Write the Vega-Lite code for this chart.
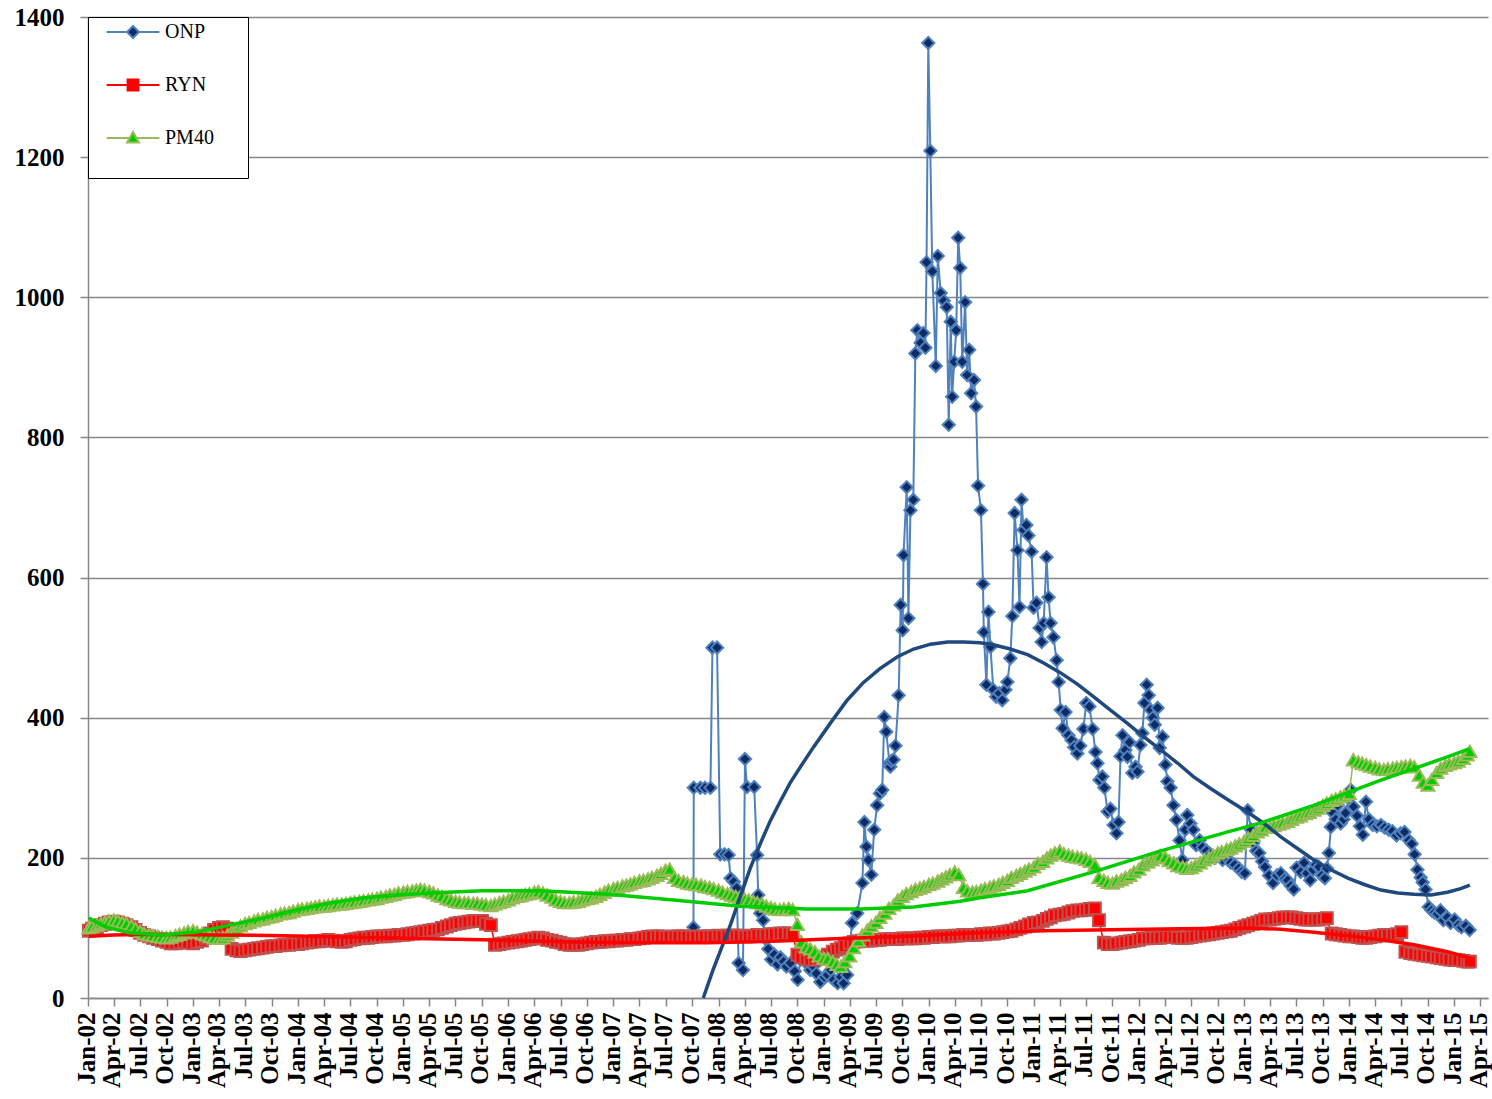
{
"$schema":"https://vega.github.io/schema/vega-lite/v6.json",
"width":1400,"height":981,
"autosize":{"type":"none"},
"padding":{"left":88,"top":17,"right":4,"bottom":101},
"background":"white",
"config":{"font":"Liberation Serif","view":{"stroke":null},
"axis":{"domainColor":"#868686","domainWidth":1.5,"tickColor":"#868686","tickWidth":1.5,"tickSize":8,"labelFont":"Liberation Serif","labelFontWeight":"bold","labelFontSize":25,"labelColor":"black","gridColor":"#868686","gridWidth":1.3,"title":null},
"legend":{"orient":"none","legendX":0,"legendY":0,"direction":"vertical","symbolSize":144,"symbolStrokeWidth":2,"symbolOffset":30,"labelOffset":22,"labelFont":"Liberation Serif","labelFontSize":20,"labelColor":"black","rowPadding":33,"padding":5,"strokeColor":"black","fillColor":"white","titleOrient":"bottom","titleFont":"Liberation Serif","titleFontSize":20,"titlePadding":5,"symbolOpacity":1}},
"datasets":{
"m":[
{"d":"2007-10-06","ONP":101},{"d":"2007-10-07","ONP":300},{"d":"2007-10-30","ONP":300},{"d":"2007-11-15","ONP":300},{"d":"2007-12-04","ONP":300},{"d":"2007-12-11","ONP":500},{"d":"2007-12-27","ONP":500},{"d":"2008-01-07","ONP":205},{"d":"2008-01-22","ONP":205},{"d":"2008-02-05","ONP":204},{"d":"2008-02-12","ONP":171},{"d":"2008-02-23","ONP":166},{"d":"2008-03-04","ONP":157},{"d":"2008-03-11","ONP":50},{"d":"2008-03-26","ONP":40},{"d":"2008-04-02","ONP":341},{"d":"2008-04-09","ONP":301},{"d":"2008-05-04","ONP":301},{"d":"2008-05-14","ONP":204},{"d":"2008-05-18","ONP":147},{"d":"2008-05-25","ONP":121},{"d":"2008-06-04","ONP":111},{"d":"2008-06-11","ONP":85},{"d":"2008-06-22","ONP":70},{"d":"2008-07-02","ONP":55},{"d":"2008-07-13","ONP":62},{"d":"2008-07-24","ONP":48},{"d":"2008-08-03","ONP":58},{"d":"2008-08-14","ONP":52},{"d":"2008-08-24","ONP":45},{"d":"2008-09-07","ONP":50},{"d":"2008-09-22","ONP":38},{"d":"2008-10-02","ONP":26},{"d":"2008-10-12","ONP":55},{"d":"2008-10-22","ONP":62},{"d":"2008-11-01","ONP":50},{"d":"2008-11-15","ONP":40},{"d":"2008-11-26","ONP":45},{"d":"2008-12-06","ONP":35},{"d":"2008-12-20","ONP":23},{"d":"2009-01-03","ONP":30},{"d":"2009-01-14","ONP":33},{"d":"2009-01-25","ONP":40},{"d":"2009-02-04","ONP":26},{"d":"2009-02-18","ONP":21},{"d":"2009-03-01","ONP":30},{"d":"2009-03-11","ONP":21},{"d":"2009-03-23","ONP":33},{"d":"2009-04-09","ONP":107},{"d":"2009-04-27","ONP":121},{"d":"2009-05-15","ONP":164},{"d":"2009-05-22","ONP":251},{"d":"2009-05-29","ONP":216},{"d":"2009-06-05","ONP":197},{"d":"2009-06-15","ONP":176},{"d":"2009-06-25","ONP":240},{"d":"2009-07-05","ONP":275},{"d":"2009-07-15","ONP":292},{"d":"2009-07-23","ONP":297},{"d":"2009-07-30","ONP":401},{"d":"2009-08-06","ONP":380},{"d":"2009-08-17","ONP":335},{"d":"2009-08-20","ONP":330},{"d":"2009-08-24","ONP":338},{"d":"2009-08-31","ONP":340},{"d":"2009-09-07","ONP":360},{"d":"2009-09-18","ONP":432},{"d":"2009-09-25","ONP":561},{"d":"2009-10-02","ONP":525},{"d":"2009-10-05","ONP":632},{"d":"2009-10-16","ONP":729},{"d":"2009-10-22","ONP":542},{"d":"2009-10-29","ONP":696},{"d":"2009-11-08","ONP":711},{"d":"2009-11-15","ONP":920},{"d":"2009-11-22","ONP":953},{"d":"2009-12-03","ONP":935},{"d":"2009-12-13","ONP":949},{"d":"2009-12-20","ONP":928},{"d":"2009-12-24","ONP":1050},{"d":"2009-12-30","ONP":1363},{"d":"2010-01-06","ONP":1209},{"d":"2010-01-13","ONP":1037},{"d":"2010-01-25","ONP":902},{"d":"2010-02-01","ONP":1059},{"d":"2010-02-11","ONP":1006},{"d":"2010-02-22","ONP":995},{"d":"2010-03-04","ONP":986},{"d":"2010-03-11","ONP":818},{"d":"2010-03-18","ONP":965},{"d":"2010-03-23","ONP":858},{"d":"2010-03-30","ONP":908},{"d":"2010-04-06","ONP":953},{"d":"2010-04-13","ONP":1085},{"d":"2010-04-20","ONP":1042},{"d":"2010-04-27","ONP":908},{"d":"2010-05-07","ONP":993},{"d":"2010-05-14","ONP":889},{"d":"2010-05-21","ONP":925},{"d":"2010-05-28","ONP":863},{"d":"2010-06-07","ONP":882},{"d":"2010-06-14","ONP":844},{"d":"2010-06-21","ONP":731},{"d":"2010-07-01","ONP":696},{"d":"2010-07-08","ONP":591},{"d":"2010-07-11","ONP":522},{"d":"2010-07-20","ONP":447},{"d":"2010-07-27","ONP":551},{"d":"2010-08-03","ONP":501},{"d":"2010-08-13","ONP":440},{"d":"2010-08-23","ONP":430},{"d":"2010-09-03","ONP":435},{"d":"2010-09-13","ONP":425},{"d":"2010-09-24","ONP":440},{"d":"2010-10-01","ONP":451},{"d":"2010-10-11","ONP":485},{"d":"2010-10-18","ONP":545},{"d":"2010-10-26","ONP":692},{"d":"2010-11-05","ONP":639},{"d":"2010-11-12","ONP":558},{"d":"2010-11-19","ONP":711},{"d":"2010-11-26","ONP":668},{"d":"2010-12-06","ONP":675},{"d":"2010-12-13","ONP":660},{"d":"2010-12-24","ONP":637},{"d":"2010-12-31","ONP":557},{"d":"2011-01-10","ONP":564},{"d":"2011-01-21","ONP":528},{"d":"2011-01-28","ONP":508},{"d":"2011-02-04","ONP":535},{"d":"2011-02-14","ONP":629},{"d":"2011-02-21","ONP":572},{"d":"2011-02-28","ONP":535},{"d":"2011-03-10","ONP":515},{"d":"2011-03-21","ONP":482},{"d":"2011-03-28","ONP":451},{"d":"2011-04-04","ONP":411},{"d":"2011-04-11","ONP":385},{"d":"2011-04-21","ONP":408},{"d":"2011-05-01","ONP":375},{"d":"2011-05-12","ONP":368},{"d":"2011-05-21","ONP":358},{"d":"2011-06-01","ONP":349},{"d":"2011-06-11","ONP":360},{"d":"2011-06-22","ONP":384},{"d":"2011-07-02","ONP":421},{"d":"2011-07-13","ONP":416},{"d":"2011-07-24","ONP":384},{"d":"2011-08-03","ONP":351},{"d":"2011-08-10","ONP":335},{"d":"2011-08-17","ONP":311},{"d":"2011-08-27","ONP":316},{"d":"2011-09-03","ONP":300},{"d":"2011-09-14","ONP":266},{"d":"2011-09-24","ONP":270},{"d":"2011-10-05","ONP":247},{"d":"2011-10-15","ONP":235},{"d":"2011-10-22","ONP":251},{"d":"2011-10-29","ONP":345},{"d":"2011-11-05","ONP":375},{"d":"2011-11-15","ONP":354},{"d":"2011-11-22","ONP":344},{"d":"2011-11-29","ONP":365},{"d":"2011-12-09","ONP":321},{"d":"2011-12-20","ONP":330},{"d":"2011-12-27","ONP":323},{"d":"2012-01-06","ONP":361},{"d":"2012-01-13","ONP":378},{"d":"2012-01-20","ONP":421},{"d":"2012-01-28","ONP":447},{"d":"2012-02-04","ONP":432},{"d":"2012-02-11","ONP":411},{"d":"2012-02-18","ONP":400},{"d":"2012-02-25","ONP":390},{"d":"2012-03-06","ONP":414},{"d":"2012-03-13","ONP":357},{"d":"2012-03-23","ONP":373},{"d":"2012-04-02","ONP":333},{"d":"2012-04-09","ONP":309},{"d":"2012-04-20","ONP":300},{"d":"2012-04-30","ONP":275},{"d":"2012-05-10","ONP":254},{"d":"2012-05-21","ONP":225},{"d":"2012-05-31","ONP":197},{"d":"2012-06-10","ONP":240},{"d":"2012-06-17","ONP":261},{"d":"2012-06-28","ONP":249},{"d":"2012-07-08","ONP":240},{"d":"2012-07-18","ONP":218},{"d":"2012-07-30","ONP":225},{"d":"2012-08-09","ONP":215},{"d":"2012-08-23","ONP":210},{"d":"2012-09-06","ONP":205},{"d":"2012-09-20","ONP":200},{"d":"2012-10-04","ONP":205},{"d":"2012-10-18","ONP":197},{"d":"2012-11-01","ONP":200},{"d":"2012-11-15","ONP":193},{"d":"2012-11-29","ONP":190},{"d":"2012-12-13","ONP":185},{"d":"2012-12-23","ONP":180},{"d":"2013-01-03","ONP":178},{"d":"2013-01-13","ONP":268},{"d":"2013-01-25","ONP":240},{"d":"2013-02-01","ONP":221},{"d":"2013-02-11","ONP":210},{"d":"2013-02-22","ONP":207},{"d":"2013-03-04","ONP":195},{"d":"2013-03-14","ONP":187},{"d":"2013-03-28","ONP":175},{"d":"2013-04-11","ONP":164},{"d":"2013-04-25","ONP":175},{"d":"2013-05-08","ONP":178},{"d":"2013-05-22","ONP":170},{"d":"2013-06-01","ONP":168},{"d":"2013-06-12","ONP":160},{"d":"2013-06-22","ONP":155},{"d":"2013-07-02","ONP":186},{"d":"2013-07-16","ONP":180},{"d":"2013-07-28","ONP":193},{"d":"2013-08-07","ONP":178},{"d":"2013-08-18","ONP":168},{"d":"2013-08-28","ONP":183},{"d":"2013-09-07","ONP":190},{"d":"2013-09-18","ONP":187},{"d":"2013-09-28","ONP":175},{"d":"2013-10-08","ONP":171},{"d":"2013-10-15","ONP":185},{"d":"2013-10-22","ONP":207},{"d":"2013-10-29","ONP":244},{"d":"2013-11-05","ONP":264},{"d":"2013-11-15","ONP":255},{"d":"2013-11-22","ONP":275},{"d":"2013-12-02","ONP":249},{"d":"2013-12-12","ONP":255},{"d":"2013-12-19","ONP":264},{"d":"2013-12-30","ONP":285},{"d":"2014-01-06","ONP":297},{"d":"2014-01-16","ONP":273},{"d":"2014-01-28","ONP":260},{"d":"2014-02-07","ONP":245},{"d":"2014-02-17","ONP":233},{"d":"2014-02-28","ONP":280},{"d":"2014-03-10","ONP":255},{"d":"2014-03-24","ONP":247},{"d":"2014-04-07","ONP":245},{"d":"2014-04-21","ONP":247},{"d":"2014-05-04","ONP":243},{"d":"2014-05-18","ONP":240},{"d":"2014-05-31","ONP":238},{"d":"2014-06-14","ONP":232},{"d":"2014-06-28","ONP":235},{"d":"2014-07-12","ONP":237},{"d":"2014-07-27","ONP":225},{"d":"2014-08-06","ONP":220},{"d":"2014-08-16","ONP":205},{"d":"2014-08-26","ONP":183},{"d":"2014-09-06","ONP":172},{"d":"2014-09-13","ONP":165},{"d":"2014-09-23","ONP":155},{"d":"2014-10-04","ONP":130},{"d":"2014-10-14","ONP":125},{"d":"2014-10-24","ONP":122},{"d":"2014-11-04","ONP":120},{"d":"2014-11-14","ONP":125},{"d":"2014-11-24","ONP":111},{"d":"2014-12-08","ONP":115},{"d":"2014-12-19","ONP":107},{"d":"2015-01-02","ONP":112},{"d":"2015-01-15","ONP":104},{"d":"2015-01-26","ONP":101},{"d":"2015-02-10","ONP":103},{"d":"2015-02-23","ONP":97},
{"d":"2002-01-04","RYN":96,"PM40":100},{"d":"2002-01-15","RYN":99,"PM40":102},{"d":"2002-02-01","RYN":101,"PM40":104},{"d":"2002-02-15","RYN":104,"PM40":106},{"d":"2002-03-01","RYN":106,"PM40":108},{"d":"2002-03-15","RYN":108,"PM40":110},{"d":"2002-04-01","RYN":109,"PM40":111},{"d":"2002-04-15","RYN":108,"PM40":110},{"d":"2002-05-01","RYN":106,"PM40":108},{"d":"2002-05-15","RYN":104,"PM40":106},{"d":"2002-06-01","RYN":101,"PM40":103},{"d":"2002-06-15","RYN":97,"PM40":99},{"d":"2002-07-01","RYN":93,"PM40":95},{"d":"2002-07-15","RYN":90,"PM40":92},{"d":"2002-08-01","RYN":88,"PM40":90},{"d":"2002-08-15","RYN":86,"PM40":89},{"d":"2002-09-01","RYN":84,"PM40":88},{"d":"2002-09-15","RYN":82,"PM40":87},{"d":"2002-10-01","RYN":80,"PM40":86},{"d":"2002-10-15","RYN":78,"PM40":87},{"d":"2002-11-01","RYN":78,"PM40":89},{"d":"2002-11-15","RYN":79,"PM40":91},{"d":"2002-12-01","RYN":80,"PM40":93},{"d":"2002-12-15","RYN":79,"PM40":95},
{"d":"2003-01-01","RYN":78,"PM40":96},{"d":"2003-01-15","RYN":80,"PM40":94},{"d":"2003-02-01","RYN":82,"PM40":92},{"d":"2003-02-15","RYN":86,"PM40":90},{"d":"2003-03-01","RYN":92,"PM40":88},{"d":"2003-03-15","RYN":97,"PM40":86},{"d":"2003-04-01","RYN":100,"PM40":85},{"d":"2003-04-15","RYN":101,"PM40":86},{"d":"2003-05-01","RYN":99,"PM40":90},{"d":"2003-05-15","RYN":70,"PM40":94},{"d":"2003-06-01","RYN":68,"PM40":99},{"d":"2003-06-15","RYN":67,"PM40":103},{"d":"2003-07-01","RYN":68,"PM40":106},{"d":"2003-07-15","RYN":69,"PM40":108},{"d":"2003-08-01","RYN":70,"PM40":110},{"d":"2003-08-15","RYN":71,"PM40":112},{"d":"2003-09-01","RYN":72,"PM40":113},{"d":"2003-09-15","RYN":73,"PM40":115},{"d":"2003-10-01","RYN":74,"PM40":116},{"d":"2003-10-15","RYN":74,"PM40":118},{"d":"2003-11-01","RYN":75,"PM40":120},{"d":"2003-11-15","RYN":76,"PM40":121},{"d":"2003-12-01","RYN":76,"PM40":122},{"d":"2003-12-15","RYN":77,"PM40":124},
{"d":"2004-01-01","RYN":77,"PM40":126},{"d":"2004-01-15","RYN":78,"PM40":127},{"d":"2004-02-01","RYN":79,"PM40":128},{"d":"2004-02-15","RYN":80,"PM40":129},{"d":"2004-03-01","RYN":81,"PM40":130},{"d":"2004-03-15","RYN":81,"PM40":131},{"d":"2004-04-01","RYN":82,"PM40":131},{"d":"2004-04-15","RYN":83,"PM40":132},{"d":"2004-05-01","RYN":82,"PM40":133},{"d":"2004-05-15","RYN":81,"PM40":134},{"d":"2004-06-01","RYN":80,"PM40":134},{"d":"2004-06-15","RYN":81,"PM40":135},{"d":"2004-07-01","RYN":83,"PM40":136},{"d":"2004-07-15","RYN":84,"PM40":137},{"d":"2004-08-01","RYN":85,"PM40":138},{"d":"2004-08-15","RYN":86,"PM40":139},{"d":"2004-09-01","RYN":86,"PM40":140},{"d":"2004-09-15","RYN":87,"PM40":141},{"d":"2004-10-01","RYN":88,"PM40":142},{"d":"2004-10-15","RYN":88,"PM40":144},{"d":"2004-11-01","RYN":88,"PM40":145},{"d":"2004-11-15","RYN":89,"PM40":147},{"d":"2004-12-01","RYN":89,"PM40":148},{"d":"2004-12-15","RYN":90,"PM40":150},
{"d":"2005-01-01","RYN":90,"PM40":151},{"d":"2005-01-15","RYN":91,"PM40":152},{"d":"2005-02-01","RYN":92,"PM40":153},{"d":"2005-02-15","RYN":93,"PM40":154},{"d":"2005-03-01","RYN":94,"PM40":155},{"d":"2005-03-15","RYN":95,"PM40":154},{"d":"2005-04-01","RYN":96,"PM40":152},{"d":"2005-04-15","RYN":97,"PM40":150},{"d":"2005-05-01","RYN":98,"PM40":147},{"d":"2005-05-15","RYN":100,"PM40":145},{"d":"2005-06-01","RYN":102,"PM40":142},{"d":"2005-06-15","RYN":104,"PM40":140},{"d":"2005-07-01","RYN":106,"PM40":138},{"d":"2005-07-15","RYN":107,"PM40":137},{"d":"2005-08-01","RYN":108,"PM40":136},{"d":"2005-08-15","RYN":109,"PM40":136},{"d":"2005-09-01","RYN":110,"PM40":135},{"d":"2005-09-15","RYN":110,"PM40":135},{"d":"2005-10-01","RYN":110,"PM40":134},{"d":"2005-10-15","RYN":106,"PM40":133},{"d":"2005-11-01","RYN":104,"PM40":132},{"d":"2005-11-15","RYN":76,"PM40":134},{"d":"2005-12-01","RYN":77,"PM40":136},{"d":"2005-12-15","RYN":78,"PM40":138},
{"d":"2006-01-01","RYN":79,"PM40":140},{"d":"2006-01-15","RYN":80,"PM40":143},{"d":"2006-02-01","RYN":81,"PM40":145},{"d":"2006-02-15","RYN":82,"PM40":146},{"d":"2006-03-01","RYN":83,"PM40":148},{"d":"2006-03-15","RYN":84,"PM40":149},{"d":"2006-04-01","RYN":85,"PM40":151},{"d":"2006-04-15","RYN":86,"PM40":152},{"d":"2006-05-01","RYN":85,"PM40":150},{"d":"2006-05-15","RYN":83,"PM40":147},{"d":"2006-06-01","RYN":82,"PM40":144},{"d":"2006-06-15","RYN":80,"PM40":140},{"d":"2006-07-01","RYN":79,"PM40":138},{"d":"2006-07-15","RYN":77,"PM40":136},{"d":"2006-08-01","RYN":76,"PM40":136},{"d":"2006-08-15","RYN":76,"PM40":137},{"d":"2006-09-01","RYN":76,"PM40":138},{"d":"2006-09-15","RYN":77,"PM40":140},{"d":"2006-10-01","RYN":78,"PM40":142},{"d":"2006-10-15","RYN":79,"PM40":143},{"d":"2006-11-01","RYN":80,"PM40":145},{"d":"2006-11-15","RYN":80,"PM40":148},{"d":"2006-12-01","RYN":81,"PM40":151},{"d":"2006-12-15","RYN":81,"PM40":154},
{"d":"2007-01-01","RYN":82,"PM40":156},{"d":"2007-01-15","RYN":82,"PM40":158},{"d":"2007-02-01","RYN":83,"PM40":160},{"d":"2007-02-15","RYN":83,"PM40":161},{"d":"2007-03-01","RYN":84,"PM40":163},{"d":"2007-03-15","RYN":84,"PM40":165},{"d":"2007-04-01","RYN":85,"PM40":167},{"d":"2007-04-15","RYN":86,"PM40":168},{"d":"2007-05-01","RYN":87,"PM40":170},{"d":"2007-05-15","RYN":88,"PM40":172},{"d":"2007-06-01","RYN":88,"PM40":175},{"d":"2007-06-15","RYN":88,"PM40":178},{"d":"2007-07-01","RYN":87,"PM40":182},{"d":"2007-07-15","RYN":87,"PM40":184},{"d":"2007-08-01","RYN":88,"PM40":172},{"d":"2007-08-15","RYN":88,"PM40":168},{"d":"2007-09-01","RYN":88,"PM40":166},{"d":"2007-09-15","RYN":88,"PM40":164},{"d":"2007-10-01","RYN":87,"PM40":163},{"d":"2007-10-15","RYN":87,"PM40":162},{"d":"2007-11-01","RYN":88,"PM40":161},{"d":"2007-11-15","RYN":88,"PM40":159},{"d":"2007-12-01","RYN":88,"PM40":158},{"d":"2007-12-15","RYN":88,"PM40":156},
{"d":"2008-01-01","RYN":89,"PM40":154},{"d":"2008-01-15","RYN":88,"PM40":151},{"d":"2008-02-01","RYN":89,"PM40":149},{"d":"2008-02-15","RYN":89,"PM40":147},{"d":"2008-03-01","RYN":89,"PM40":145},{"d":"2008-03-15","RYN":89,"PM40":143},{"d":"2008-04-01","RYN":88,"PM40":141},{"d":"2008-04-15","RYN":88,"PM40":140},{"d":"2008-05-01","RYN":89,"PM40":138},{"d":"2008-05-15","RYN":90,"PM40":136},{"d":"2008-06-01","RYN":90,"PM40":134},{"d":"2008-06-15","RYN":90,"PM40":131},{"d":"2008-07-01","RYN":91,"PM40":129},{"d":"2008-07-15","RYN":91,"PM40":127},{"d":"2008-08-01","RYN":92,"PM40":126},{"d":"2008-08-15","RYN":92,"PM40":127},{"d":"2008-09-01","RYN":92,"PM40":128},{"d":"2008-09-15","RYN":91,"PM40":126},{"d":"2008-10-01","RYN":62,"PM40":105},{"d":"2008-10-15","RYN":58,"PM40":80},{"d":"2008-11-01","RYN":56,"PM40":73},{"d":"2008-11-15","RYN":55,"PM40":70},{"d":"2008-12-01","RYN":55,"PM40":66},{"d":"2008-12-15","RYN":56,"PM40":60},
{"d":"2009-01-01","RYN":58,"PM40":57},{"d":"2009-01-15","RYN":62,"PM40":56},{"d":"2009-02-01","RYN":66,"PM40":52},{"d":"2009-02-15","RYN":69,"PM40":48},{"d":"2009-03-01","RYN":71,"PM40":45},{"d":"2009-03-15","RYN":74,"PM40":52},{"d":"2009-04-01","RYN":78,"PM40":60},{"d":"2009-04-15","RYN":80,"PM40":72},{"d":"2009-05-01","RYN":81,"PM40":82},{"d":"2009-05-15","RYN":82,"PM40":90},{"d":"2009-06-01","RYN":82,"PM40":97},{"d":"2009-06-15","RYN":82,"PM40":103},{"d":"2009-07-01","RYN":83,"PM40":108},{"d":"2009-07-15","RYN":83,"PM40":115},{"d":"2009-08-01","RYN":84,"PM40":121},{"d":"2009-08-15","RYN":84,"PM40":128},{"d":"2009-09-01","RYN":84,"PM40":133},{"d":"2009-09-15","RYN":84,"PM40":140},{"d":"2009-10-01","RYN":85,"PM40":145},{"d":"2009-10-15","RYN":85,"PM40":149},{"d":"2009-11-01","RYN":85,"PM40":152},{"d":"2009-11-15","RYN":85,"PM40":155},{"d":"2009-12-01","RYN":86,"PM40":157},{"d":"2009-12-15","RYN":86,"PM40":159},
{"d":"2010-01-01","RYN":87,"PM40":162},{"d":"2010-01-15","RYN":87,"PM40":164},{"d":"2010-02-01","RYN":88,"PM40":167},{"d":"2010-02-15","RYN":88,"PM40":170},{"d":"2010-03-01","RYN":88,"PM40":173},{"d":"2010-03-15","RYN":88,"PM40":176},{"d":"2010-04-01","RYN":89,"PM40":180},{"d":"2010-04-15","RYN":89,"PM40":176},{"d":"2010-05-01","RYN":90,"PM40":158},{"d":"2010-05-15","RYN":90,"PM40":153},{"d":"2010-06-01","RYN":90,"PM40":151},{"d":"2010-06-15","RYN":90,"PM40":152},{"d":"2010-07-01","RYN":91,"PM40":154},{"d":"2010-07-15","RYN":91,"PM40":156},{"d":"2010-08-01","RYN":92,"PM40":158},{"d":"2010-08-15","RYN":92,"PM40":160},{"d":"2010-09-01","RYN":93,"PM40":162},{"d":"2010-09-15","RYN":94,"PM40":165},{"d":"2010-10-01","RYN":95,"PM40":168},{"d":"2010-10-15","RYN":96,"PM40":172},{"d":"2010-11-01","RYN":98,"PM40":175},{"d":"2010-11-15","RYN":100,"PM40":178},{"d":"2010-12-01","RYN":102,"PM40":181},{"d":"2010-12-15","RYN":105,"PM40":184},
{"d":"2011-01-01","RYN":107,"PM40":187},{"d":"2011-01-15","RYN":108,"PM40":192},{"d":"2011-02-01","RYN":110,"PM40":195},{"d":"2011-02-15","RYN":113,"PM40":200},{"d":"2011-03-01","RYN":115,"PM40":204},{"d":"2011-03-15","RYN":118,"PM40":207},{"d":"2011-04-01","RYN":119,"PM40":210},{"d":"2011-04-15","RYN":120,"PM40":206},{"d":"2011-05-01","RYN":122,"PM40":204},{"d":"2011-05-15","RYN":124,"PM40":202},{"d":"2011-06-01","RYN":125,"PM40":201},{"d":"2011-06-15","RYN":125,"PM40":200},{"d":"2011-07-01","RYN":126,"PM40":198},{"d":"2011-07-15","RYN":127,"PM40":195},{"d":"2011-08-01","RYN":128,"PM40":190},{"d":"2011-08-15","RYN":111,"PM40":172},{"d":"2011-09-01","RYN":79,"PM40":168},{"d":"2011-09-15","RYN":77,"PM40":165},{"d":"2011-10-01","RYN":77,"PM40":164},{"d":"2011-10-15","RYN":78,"PM40":167},{"d":"2011-11-01","RYN":79,"PM40":169},{"d":"2011-11-15","RYN":80,"PM40":172},{"d":"2011-12-01","RYN":81,"PM40":175},{"d":"2011-12-15","RYN":82,"PM40":180},
{"d":"2012-01-01","RYN":83,"PM40":184},{"d":"2012-01-15","RYN":85,"PM40":190},{"d":"2012-02-01","RYN":85,"PM40":194},{"d":"2012-02-15","RYN":86,"PM40":197},{"d":"2012-03-01","RYN":86,"PM40":200},{"d":"2012-03-15","RYN":86,"PM40":203},{"d":"2012-04-01","RYN":87,"PM40":201},{"d":"2012-04-15","RYN":87,"PM40":196},{"d":"2012-05-01","RYN":87,"PM40":193},{"d":"2012-05-15","RYN":86,"PM40":189},{"d":"2012-06-01","RYN":86,"PM40":187},{"d":"2012-06-15","RYN":86,"PM40":185},{"d":"2012-07-01","RYN":87,"PM40":186},{"d":"2012-07-15","RYN":88,"PM40":189},{"d":"2012-08-01","RYN":89,"PM40":193},{"d":"2012-08-15","RYN":90,"PM40":197},{"d":"2012-09-01","RYN":91,"PM40":200},{"d":"2012-09-15","RYN":92,"PM40":204},{"d":"2012-10-01","RYN":93,"PM40":207},{"d":"2012-10-15","RYN":94,"PM40":209},{"d":"2012-11-01","RYN":95,"PM40":212},{"d":"2012-11-15","RYN":96,"PM40":214},{"d":"2012-12-01","RYN":98,"PM40":217},{"d":"2012-12-15","RYN":100,"PM40":220},
{"d":"2013-01-01","RYN":102,"PM40":224},{"d":"2013-01-15","RYN":104,"PM40":228},{"d":"2013-02-01","RYN":106,"PM40":232},{"d":"2013-02-15","RYN":108,"PM40":237},{"d":"2013-03-01","RYN":110,"PM40":240},{"d":"2013-03-15","RYN":112,"PM40":244},{"d":"2013-04-01","RYN":112,"PM40":244},{"d":"2013-04-15","RYN":113,"PM40":246},{"d":"2013-05-01","RYN":114,"PM40":248},{"d":"2013-05-15","RYN":115,"PM40":250},{"d":"2013-06-01","RYN":115,"PM40":252},{"d":"2013-06-15","RYN":115,"PM40":255},{"d":"2013-07-01","RYN":114,"PM40":258},{"d":"2013-07-15","RYN":113,"PM40":260},{"d":"2013-08-01","RYN":112,"PM40":263},{"d":"2013-08-15","RYN":112,"PM40":265},{"d":"2013-09-01","RYN":112,"PM40":268},{"d":"2013-09-15","RYN":112,"PM40":271},{"d":"2013-10-01","RYN":113,"PM40":275},{"d":"2013-10-15","RYN":114,"PM40":278},{"d":"2013-11-01","RYN":92,"PM40":282},{"d":"2013-11-15","RYN":91,"PM40":284},{"d":"2013-12-01","RYN":90,"PM40":287},{"d":"2013-12-15","RYN":89,"PM40":289},
{"d":"2014-01-01","RYN":88,"PM40":292},{"d":"2014-01-15","RYN":88,"PM40":340},{"d":"2014-02-01","RYN":87,"PM40":337},{"d":"2014-02-15","RYN":86,"PM40":335},{"d":"2014-03-01","RYN":86,"PM40":333},{"d":"2014-03-15","RYN":87,"PM40":331},{"d":"2014-04-01","RYN":88,"PM40":329},{"d":"2014-04-15","RYN":89,"PM40":327},{"d":"2014-05-01","RYN":90,"PM40":326},{"d":"2014-05-15","RYN":90,"PM40":327},{"d":"2014-06-01","RYN":90,"PM40":328},{"d":"2014-06-15","RYN":91,"PM40":329},{"d":"2014-07-01","RYN":94,"PM40":330},{"d":"2014-07-15","RYN":66,"PM40":331},{"d":"2014-08-01","RYN":64,"PM40":332},{"d":"2014-08-15","RYN":63,"PM40":330},{"d":"2014-09-01","RYN":62,"PM40":318},{"d":"2014-09-15","RYN":61,"PM40":308},{"d":"2014-10-01","RYN":60,"PM40":304},{"d":"2014-10-15","RYN":59,"PM40":312},{"d":"2014-11-01","RYN":58,"PM40":322},{"d":"2014-11-15","RYN":57,"PM40":328},{"d":"2014-12-01","RYN":56,"PM40":332},{"d":"2014-12-15","RYN":55,"PM40":334},
{"d":"2015-01-01","RYN":54,"PM40":336},{"d":"2015-01-15","RYN":54,"PM40":338},{"d":"2015-02-01","RYN":53,"PM40":342},{"d":"2015-02-15","RYN":52,"PM40":347},{"d":"2015-02-24","RYN":52,"PM40":352}
],
"t":[
{"d":"2007-11-09","s":"ONP","v":0},{"d":"2007-12-13","s":"ONP","v":40},{"d":"2008-01-15","s":"ONP","v":75},{"d":"2008-02-12","s":"ONP","v":105},{"d":"2008-03-17","s":"ONP","v":145},{"d":"2008-04-20","s":"ONP","v":185},{"d":"2008-05-25","s":"ONP","v":220},{"d":"2008-06-28","s":"ONP","v":252},{"d":"2008-08-02","s":"ONP","v":280},{"d":"2008-09-06","s":"ONP","v":307},{"d":"2008-10-12","s":"ONP","v":330},{"d":"2008-11-26","s":"ONP","v":358},{"d":"2009-01-25","s":"ONP","v":393},{"d":"2009-03-23","s":"ONP","v":425},{"d":"2009-05-18","s":"ONP","v":450},{"d":"2009-07-15","s":"ONP","v":470},{"d":"2009-09-14","s":"ONP","v":487},{"d":"2009-11-09","s":"ONP","v":498},{"d":"2010-01-07","s":"ONP","v":505},{"d":"2010-03-08","s":"ONP","v":508},{"d":"2010-05-01","s":"ONP","v":508},{"d":"2010-06-28","s":"ONP","v":507},{"d":"2010-08-13","s":"ONP","v":504},{"d":"2010-10-11","s":"ONP","v":498},{"d":"2010-12-10","s":"ONP","v":490},{"d":"2011-02-04","s":"ONP","v":478},{"d":"2011-04-04","s":"ONP","v":464},{"d":"2011-06-01","s":"ONP","v":448},{"d":"2011-07-27","s":"ONP","v":430},{"d":"2011-09-24","s":"ONP","v":411},{"d":"2011-11-22","s":"ONP","v":392},{"d":"2012-01-17","s":"ONP","v":373},{"d":"2012-03-17","s":"ONP","v":354},{"d":"2012-05-15","s":"ONP","v":335},{"d":"2012-07-08","s":"ONP","v":316},{"d":"2012-09-06","s":"ONP","v":299},{"d":"2012-11-05","s":"ONP","v":283},{"d":"2013-01-13","s":"ONP","v":265},{"d":"2013-03-11","s":"ONP","v":249},{"d":"2013-05-08","s":"ONP","v":230},{"d":"2013-07-06","s":"ONP","v":213},{"d":"2013-08-31","s":"ONP","v":197},{"d":"2013-10-29","s":"ONP","v":183},{"d":"2013-12-27","s":"ONP","v":171},{"d":"2014-02-22","s":"ONP","v":162},{"d":"2014-04-21","s":"ONP","v":154},{"d":"2014-06-19","s":"ONP","v":150},{"d":"2014-08-14","s":"ONP","v":148},{"d":"2014-10-12","s":"ONP","v":147},{"d":"2014-12-08","s":"ONP","v":151},{"d":"2015-01-23","s":"ONP","v":156},{"d":"2015-02-24","s":"ONP","v":161},
{"d":"2002-01-04","s":"RYN","v":88},{"d":"2002-04-01","s":"RYN","v":90},{"d":"2002-07-23","s":"RYN","v":91},{"d":"2003-03-18","s":"RYN","v":90},{"d":"2003-11-07","s":"RYN","v":89},{"d":"2004-06-23","s":"RYN","v":87},{"d":"2005-02-11","s":"RYN","v":85},{"d":"2005-10-01","s":"RYN","v":83},{"d":"2006-08-27","s":"RYN","v":80},{"d":"2007-04-16","s":"RYN","v":79},{"d":"2007-11-23","s":"RYN","v":79},{"d":"2008-07-11","s":"RYN","v":81},{"d":"2009-03-01","s":"RYN","v":85},{"d":"2009-10-18","s":"RYN","v":88},{"d":"2010-06-28","s":"RYN","v":93},{"d":"2011-02-04","s":"RYN","v":96},{"d":"2011-07-27","s":"RYN","v":97},{"d":"2012-05-24","s":"RYN","v":99},{"d":"2013-01-13","s":"RYN","v":100},{"d":"2013-05-08","s":"RYN","v":98},{"d":"2013-08-31","s":"RYN","v":94},{"d":"2013-12-27","s":"RYN","v":89},{"d":"2014-04-21","s":"RYN","v":83},{"d":"2014-08-14","s":"RYN","v":76},{"d":"2014-12-08","s":"RYN","v":66},{"d":"2015-02-24","s":"RYN","v":57},
{"d":"2002-01-04","s":"PM40","v":114},{"d":"2002-03-07","s":"PM40","v":101},{"d":"2002-05-25","s":"PM40","v":93},{"d":"2002-09-15","s":"PM40","v":90},{"d":"2003-01-14","s":"PM40","v":94},{"d":"2003-05-09","s":"PM40","v":104},{"d":"2003-09-01","s":"PM40","v":114},{"d":"2003-12-30","s":"PM40","v":126},{"d":"2004-04-25","s":"PM40","v":136},{"d":"2004-08-18","s":"PM40","v":143},{"d":"2004-12-13","s":"PM40","v":147},{"d":"2005-04-08","s":"PM40","v":150},{"d":"2005-10-01","s":"PM40","v":153},{"d":"2006-04-23","s":"PM40","v":153},{"d":"2006-12-14","s":"PM40","v":148},{"d":"2007-07-29","s":"PM40","v":140},{"d":"2008-03-17","s":"PM40","v":131},{"d":"2008-11-04","s":"PM40","v":127},{"d":"2009-05-08","s":"PM40","v":127},{"d":"2009-11-09","s":"PM40","v":130},{"d":"2010-04-20","s":"PM40","v":138},{"d":"2010-06-28","s":"PM40","v":143},{"d":"2010-12-10","s":"PM40","v":153},{"d":"2011-07-27","s":"PM40","v":180},{"d":"2012-03-17","s":"PM40","v":210},{"d":"2012-11-05","s":"PM40","v":237},{"d":"2013-02-28","s":"PM40","v":250},{"d":"2013-08-31","s":"PM40","v":275},{"d":"2014-04-21","s":"PM40","v":311},{"d":"2014-12-08","s":"PM40","v":344},{"d":"2015-02-24","s":"PM40","v":356}
]},
"encoding":{
"x":{"field":"d","type":"temporal","scale":{"type":"utc","domain":[{"year":2002,"month":1,"date":1,"utc":true},{"year":2015,"month":4,"date":28,"utc":true}]},
"axis":{"tickCount":{"interval":"month","step":3},"labelExpr":"utcFormat(datum.value, '%b-%y')","labelAngle":-90,"labelAlign":"right","labelBaseline":"middle","labelPadding":6,"labelOffset":-2,"labelOverlap":false,"labelFlush":false,"labelBound":false,"grid":false}},
"y":{"field":"v","type":"quantitative","scale":{"domain":[0,1400],"nice":false},"axis":{"values":[0,200,400,600,800,1000,1200,1400],"format":"d","grid":true,"labelPadding":16}}
},
"layer":[
{"data":{"name":"m"},"transform":[{"fold":["ONP","RYN","PM40"],"as":["s","v"]},{"filter":"isValid(datum.v) && datum.s === 'ONP'"}],"mark":{"type":"line","stroke":"#4F81BD","strokeWidth":2},"encoding":{}},
{"data":{"name":"m"},"transform":[{"fold":["ONP","RYN","PM40"],"as":["s","v"]},{"filter":"isValid(datum.v) && datum.s === 'ONP'"}],"mark":{"type":"point","shape":"diamond","filled":true,"fill":"#0F2B66","stroke":"#4F81BD","size":150,"strokeWidth":2,"opacity":1},"encoding":{}},
{"data":{"name":"m"},"transform":[{"fold":["ONP","RYN","PM40"],"as":["s","v"]},{"filter":"isValid(datum.v) && datum.s === 'RYN'"}],"mark":{"type":"line","stroke":"#FF0000","strokeWidth":1.5},"encoding":{}},
{"data":{"name":"m"},"transform":[{"fold":["ONP","RYN","PM40"],"as":["s","v"]},{"filter":"isValid(datum.v) && datum.s === 'RYN'"}],"mark":{"type":"point","shape":"square","filled":true,"fill":"#FF0000","stroke":"#C0504D","size":140,"strokeWidth":2,"opacity":1},"encoding":{}},
{"data":{"name":"m"},"transform":[{"fold":["ONP","RYN","PM40"],"as":["s","v"]},{"filter":"isValid(datum.v) && datum.s === 'PM40'"}],"mark":{"type":"line","stroke":"#9BBB59","strokeWidth":1.5},"encoding":{}},
{"data":{"name":"m"},"transform":[{"fold":["ONP","RYN","PM40"],"as":["s","v"]},{"filter":"isValid(datum.v) && datum.s === 'PM40'"}],"mark":{"type":"point","shape":"triangle-up","filled":true,"fill":"#00CC00","stroke":"#9BBB59","size":170,"strokeWidth":2,"opacity":1},"encoding":{}},
{"data":{"name":"t"},"transform":[{"filter":"datum.s === 'ONP'"}],"mark":{"type":"line","stroke":"#1F497D","strokeWidth":3.5},"encoding":{}},
{"data":{"name":"t"},"transform":[{"filter":"datum.s === 'RYN'"}],"mark":{"type":"line","stroke":"#FF0000","strokeWidth":3.5},"encoding":{}},
{"data":{"name":"t"},"transform":[{"filter":"datum.s === 'PM40'"}],"mark":{"type":"line","stroke":"#00CC00","strokeWidth":3.5},"encoding":{}},
{"data":{"name":"t"},"transform":[{"filter":"datum.v < 0"}],"mark":{"type":"point","filled":true,"opacity":1},
"encoding":{
"fill":{"field":"s","type":"nominal","scale":{"domain":["ONP","RYN","PM40"],"range":["#0F2B66","#FF0000","#00CC00"]},"legend":{"title":"\u200b\u00a0\u00a0\u00a0\u00a0\u00a0\u00a0\u00a0\u00a0\u00a0\u00a0\u00a0\u00a0\u00a0\u00a0\u00a0\u00a0\u00a0\u00a0\u00a0\u00a0\u00a0\u00a0\u00a0\u00a0\u00a0\u00a0\u00a0\u00a0\u00a0\u00a0\u200b"}},
"stroke":{"field":"s","type":"nominal","scale":{"domain":["ONP","RYN","PM40"],"range":["#4F81BD","#FF0000","#9BBB59"]},"legend":{"title":"\u200b\u00a0\u00a0\u00a0\u00a0\u00a0\u00a0\u00a0\u00a0\u00a0\u00a0\u00a0\u00a0\u00a0\u00a0\u00a0\u00a0\u00a0\u00a0\u00a0\u00a0\u00a0\u00a0\u00a0\u00a0\u00a0\u00a0\u00a0\u00a0\u00a0\u00a0\u200b"}},
"shape":{"field":"s","type":"nominal","scale":{"domain":["ONP","RYN","PM40"],"range":["M-4.4,0H-1M1,0H4.4M0,-1L1,0L0,1L-1,0Z","M-4.4,0H-0.9M0.9,0H4.4M-0.9,-0.9H0.9V0.9H-0.9Z","M-4.4,0H-0.55M0.55,0H4.4M0,-1L1,0.75L-1,0.75Z"]},"legend":{"title":"\u200b\u00a0\u00a0\u00a0\u00a0\u00a0\u00a0\u00a0\u00a0\u00a0\u00a0\u00a0\u00a0\u00a0\u00a0\u00a0\u00a0\u00a0\u00a0\u00a0\u00a0\u00a0\u00a0\u00a0\u00a0\u00a0\u00a0\u00a0\u00a0\u00a0\u00a0\u200b"}}
}}
]
}
